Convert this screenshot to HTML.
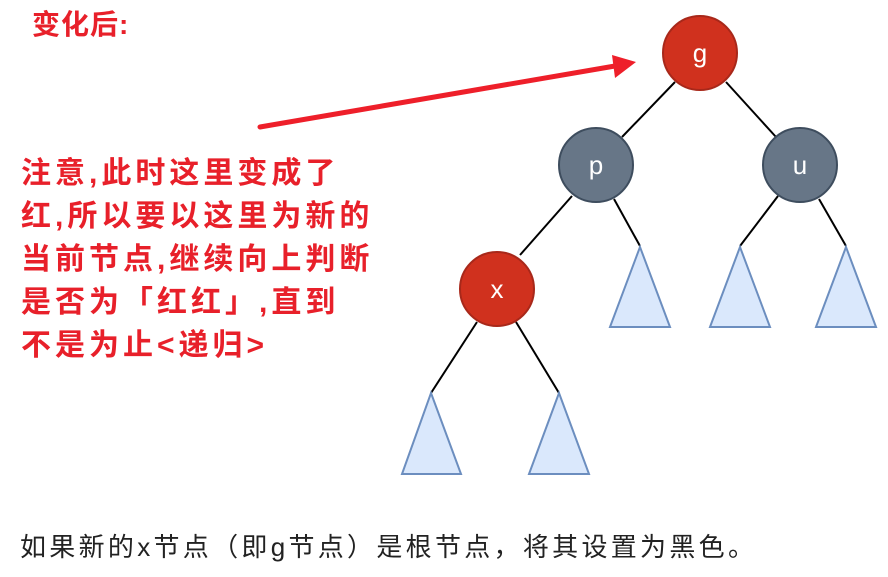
<!DOCTYPE html>
<html><head><meta charset="utf-8"><style>
body{margin:0;width:888px;height:577px;background:#fff;position:relative;overflow:hidden;font-family:"Liberation Sans","Noto Sans CJK SC",sans-serif;}
.r{position:absolute;color:#e8202a;font-weight:bold;white-space:nowrap;}
.p{left:21px;font-size:30px;letter-spacing:4px;line-height:43px;}
</style></head><body>
<svg width="888" height="577" style="position:absolute;left:0;top:0">
<g stroke="#000" stroke-width="2">
<line x1="675" y1="82" x2="622" y2="137"/>
<line x1="726" y1="82" x2="776" y2="137"/>
<line x1="572" y1="196" x2="520" y2="255"/>
<line x1="614" y1="199" x2="640" y2="246"/>
<line x1="778" y1="196" x2="740" y2="246"/>
<line x1="819" y1="199" x2="846" y2="246"/>
<line x1="477" y1="322" x2="431" y2="393"/>
<line x1="516" y1="322" x2="559" y2="393"/>
</g>
<g fill="#dae8fc" stroke="#6c8ebf" stroke-width="2">
<polygon points="640,247 670,327 610,327"/>
<polygon points="740,247 770,327 710,327"/>
<polygon points="846,247 876,327 816,327"/>
<polygon points="431,393 461,474 402,474"/>
<polygon points="559,393 589,474 529,474"/>
</g>
<g stroke-width="2">
<circle cx="700" cy="53" r="37" fill="#d0311e" stroke="#a8281a"/>
<circle cx="596" cy="165" r="37" fill="#677687" stroke="#3e4d5e"/>
<circle cx="800" cy="165" r="37" fill="#677687" stroke="#3e4d5e"/>
<circle cx="497" cy="289" r="37" fill="#d0311e" stroke="#a8281a"/>
</g>
<g fill="#fff" font-size="26" font-family="Liberation Sans, sans-serif" text-anchor="middle">
<text x="700" y="62">g</text>
<text x="596" y="174">p</text>
<text x="800" y="174">u</text>
<text x="497" y="298">x</text>
</g>
<line x1="260" y1="127" x2="615" y2="66" stroke="#ee1f2a" stroke-width="5" stroke-linecap="round"/>
<polygon points="636,62 612,55 615,78" fill="#ee1f2a"/>
</svg>
<div class="r" style="left:32px;top:3px;font-size:28px;letter-spacing:1px;">变化后:</div>
<div class="r p" style="top:152px;">注意,此时这里变成了<br>红,所以要以这里为新的<br>当前节点,继续向上判断<br>是否为「红红」,直到<br>不是为止&lt;递归&gt;</div>
<div style="position:absolute;left:20px;top:527px;font-size:26px;letter-spacing:3.3px;color:#222;white-space:nowrap;">如果新的x节点（即g节点）是根节点，将其设置为黑色。</div>
</body></html>
